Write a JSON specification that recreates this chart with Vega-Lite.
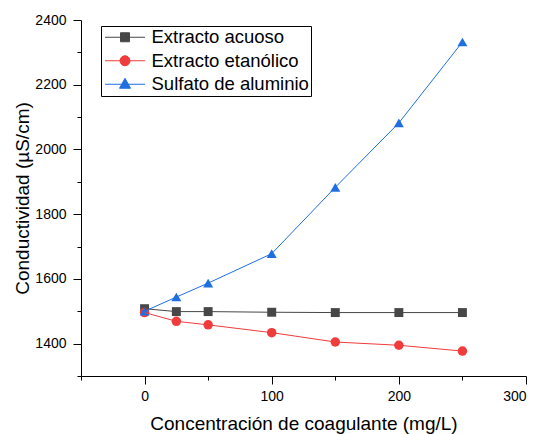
{
  "$schema": "https://vega.github.io/schema/vega-lite/v6.json",
  "width": 445,
  "height": 356,
  "autosize": {"type": "none"},
  "padding": {"left": 81, "top": 20, "right": 18, "bottom": 58},
  "config": {
    "view": {"stroke": null},
    "font": "Liberation Sans",
    "axis": {"grid": false, "domainColor": "#000", "tickColor": "#000", "labelColor": "#000", "titleColor": "#000", "labelFont": "Liberation Sans", "titleFont": "Liberation Sans", "titleFontWeight": "normal", "labelFontSize": 14, "titleFontSize": 19, "domainWidth": 1, "tickWidth": 1}
  },
  "data": {
    "values": [
      {"serie": "Extracto acuoso", "x": 0, "y": 1508},
      {"serie": "Extracto acuoso", "x": 25, "y": 1499},
      {"serie": "Extracto acuoso", "x": 50, "y": 1499},
      {"serie": "Extracto acuoso", "x": 100, "y": 1497},
      {"serie": "Extracto acuoso", "x": 150, "y": 1496},
      {"serie": "Extracto acuoso", "x": 200, "y": 1496},
      {"serie": "Extracto acuoso", "x": 250, "y": 1496},
      {"serie": "Extracto etanólico", "x": 0, "y": 1496},
      {"serie": "Extracto etanólico", "x": 25, "y": 1469},
      {"serie": "Extracto etanólico", "x": 50, "y": 1458},
      {"serie": "Extracto etanólico", "x": 100, "y": 1434},
      {"serie": "Extracto etanólico", "x": 150, "y": 1405},
      {"serie": "Extracto etanólico", "x": 200, "y": 1395},
      {"serie": "Extracto etanólico", "x": 250, "y": 1377},
      {"serie": "Sulfato de aluminio", "x": 0, "y": 1500},
      {"serie": "Sulfato de aluminio", "x": 25, "y": 1544},
      {"serie": "Sulfato de aluminio", "x": 50, "y": 1587},
      {"serie": "Sulfato de aluminio", "x": 100, "y": 1678},
      {"serie": "Sulfato de aluminio", "x": 150, "y": 1883},
      {"serie": "Sulfato de aluminio", "x": 200, "y": 2082},
      {"serie": "Sulfato de aluminio", "x": 250, "y": 2332}
    ]
  },
  "resolve": {"axis": {"x": "independent", "y": "independent"}},
  "layer": [
    {
      "transform": [{"filter": "datum.serie == 'Extracto acuoso'"}],
      "mark": {"type": "point", "filled": true, "opacity": 1, "size": 80, "shape": "square", "color": "#474747"},
      "encoding": {
        "x": {"field": "x", "type": "quantitative", "scale": {"domain": [-50, 300], "nice": false, "zero": false},
          "axis": {"orient": "bottom", "values": [-50, 50, 150, 250], "labels": false, "domain": false, "title": null, "tickSize": 4}},
        "y": {"field": "y", "type": "quantitative", "scale": {"domain": [1300, 2400], "nice": false, "zero": false},
          "axis": {"orient": "left", "values": [1300, 1500, 1700, 1900, 2100, 2300], "labels": false, "domain": false, "title": null, "tickSize": 4}}
      }
    },
    {
      "transform": [{"filter": "datum.serie == 'Extracto etanólico'"}],
      "mark": {"type": "point", "filled": true, "opacity": 1, "size": 90, "shape": "circle", "color": "#f03c3c"},
      "encoding": {
        "x": {"field": "x", "type": "quantitative", "axis": null},
        "y": {"field": "y", "type": "quantitative", "axis": null}
      }
    },
    {
      "transform": [{"filter": "datum.serie == 'Sulfato de aluminio'"}],
      "mark": {"type": "point", "filled": true, "opacity": 1, "size": 100, "shape": "triangle-up", "color": "#1f6fe0"},
      "encoding": {
        "x": {"field": "x", "type": "quantitative", "axis": null},
        "y": {"field": "y", "type": "quantitative", "axis": null}
      }
    },
    {
      "mark": {"type": "line", "strokeWidth": 1},
      "encoding": {
        "x": {"field": "x", "type": "quantitative",
          "axis": {"orient": "bottom", "values": [0, 100, 200, 300], "format": "d", "title": "Concentración de coagulante (mg/L)", "tickSize": 8, "labelPadding": 5, "titlePadding": 11}},
        "y": {"field": "y", "type": "quantitative",
          "axis": {"orient": "left", "values": [1400, 1600, 1800, 2000, 2200, 2400], "format": "d", "title": "Conductividad (µS/cm)", "tickSize": 8, "labelPadding": 7, "titlePadding": 2}},
        "color": {"field": "serie", "type": "nominal",
          "scale": {"domain": ["Extracto acuoso", "Extracto etanólico", "Sulfato de aluminio"], "range": ["#474747", "#f03c3c", "#1f6fe0"]},
          "legend": {
            "title": null, "orient": "none", "legendX": 20, "legendY": 6,
            "strokeColor": "#000", "padding": 2, "fillColor": "white",
            "labelFontSize": 18.5, "labelFont": "Liberation Sans", "labelColor": "#000",
            "symbolSize": 100, "rowPadding": 4.5, "labelOffset": 30,
            "encode": {"symbols": {"update": {
              "shape": {"signal": "datum.value == 'Extracto acuoso' ? 'M-4,0H4M-0.9,-0.9H0.9V0.9H-0.9Z' : (datum.value == 'Extracto etanólico' ? 'M-4,0H4M-1,0A1,1,0,1,0,1,0A1,1,0,1,0,-1,0Z' : 'M-4,0H4M0,-1.2L1.1,0.8H-1.1Z')"},
              "x": {"value": 22},
              "fill": {"signal": "scale('color', datum.value)"},
              "stroke": {"signal": "scale('color', datum.value)"},
              "strokeWidth": {"value": 1},
              "fillOpacity": {"value": 1},
              "opacity": {"value": 1}
            }}}
          }}
      }
    }
  ]
}
